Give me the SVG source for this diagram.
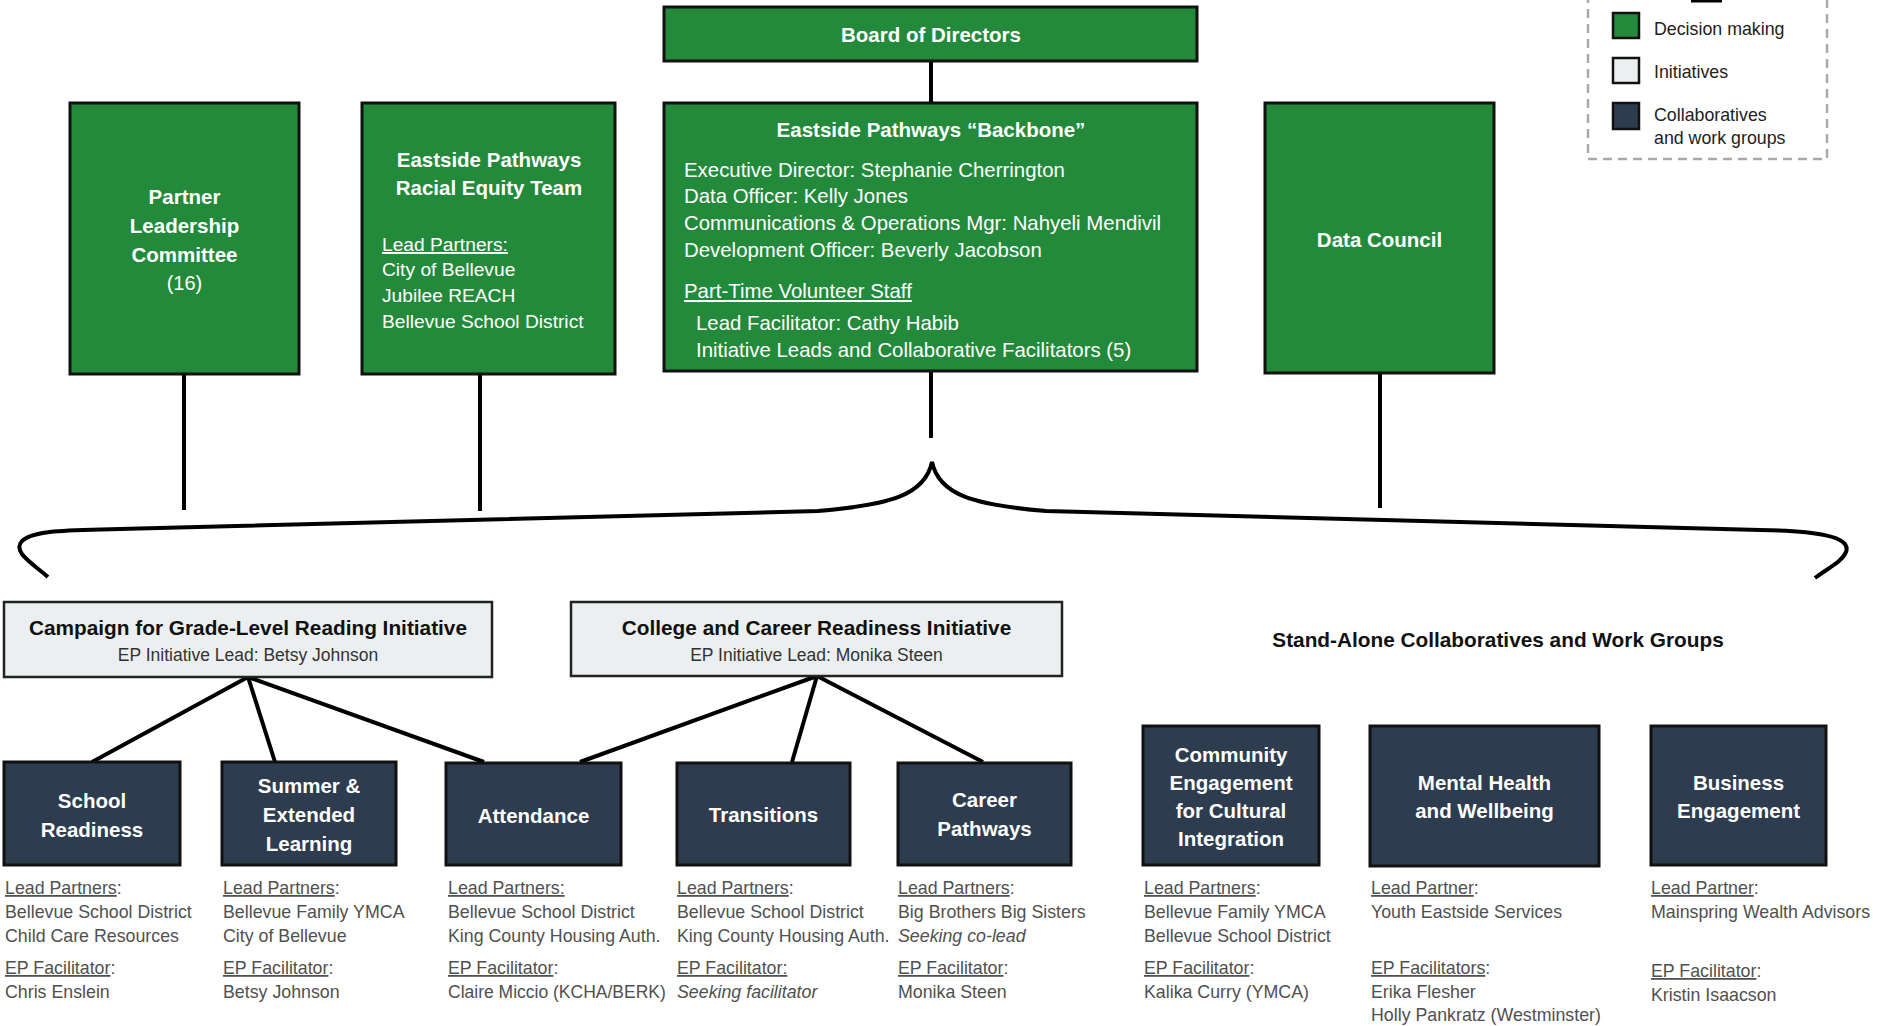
<svg xmlns="http://www.w3.org/2000/svg" width="1880" height="1026" viewBox="0 0 1880 1026">
<style>
  text { font-family: "Liberation Sans", Arial, sans-serif; }
  .green { fill: #238a3b; stroke: #111; stroke-width: 3; }
  .init { fill: #eceff0; stroke: #222; stroke-width: 2.5; }
  .navy { fill: #2e3c4f; stroke: #111; stroke-width: 3; }
  .wt { fill: #fff; font-weight: bold; font-size: 20.5px; text-anchor: middle; }
  .wr { fill: #fff; font-size: 20.4px; }
  .wrc { fill: #fff; font-size: 20px; text-anchor: middle; }
  .bt { fill: #111; font-weight: bold; font-size: 20.8px; text-anchor: middle; }
  .sub { fill: #333; font-size: 17.5px; text-anchor: middle; }
  .body { fill: #505050; font-size: 17.8px; }
  .leg { fill: #222; font-size: 17.8px; }
  .u { text-decoration: underline; }
  .it { font-style: italic; }
  .conn { fill: none; stroke: #000; stroke-width: 4; }
  .sw { stroke: #111; stroke-width: 2.5; }
</style>

<g id="connectors">
  <line class="conn" x1="931" y1="61" x2="931" y2="103"/>
  <line class="conn" x1="184" y1="374" x2="184" y2="510"/>
  <line class="conn" x1="480" y1="374" x2="480" y2="511"/>
  <line class="conn" x1="931" y1="371" x2="931" y2="438"/>
  <line class="conn" x1="1380" y1="373" x2="1380" y2="508"/>
  <path class="conn" d="M48,577 C32,563 12,552 22,541 C34,530 70,530 120,529 L818,511 C890,505 925,495 932,462 C939,495 974,505 1046,511 L1760,530 C1815,531 1852,536 1846,552 C1842,562 1828,568 1815,578"/>
  <line class="conn" x1="248" y1="677" x2="92" y2="762"/>
  <line class="conn" x1="248" y1="677" x2="275" y2="762"/>
  <line class="conn" x1="248" y1="677" x2="484" y2="762"/>
  <line class="conn" x1="817" y1="676" x2="580" y2="762"/>
  <line class="conn" x1="817" y1="676" x2="792" y2="762"/>
  <line class="conn" x1="817" y1="676" x2="983" y2="762"/>
</g>

<g id="legend">
  <path d="M1588,-6 V159 H1827 V-6" fill="none" stroke="#aaa" stroke-width="2.5" stroke-dasharray="9,6"/>
  <rect x="1691" y="-2" width="31" height="4.5" fill="#000"/>
  <rect class="sw" x="1613" y="13" width="26" height="25" fill="#238a3b"/>
  <text class="leg" x="1654" y="35">Decision making</text>
  <rect class="sw" x="1613" y="58" width="26" height="25" fill="#eceff0"/>
  <text class="leg" x="1654" y="78">Initiatives</text>
  <rect class="sw" x="1613" y="103" width="26" height="26" fill="#2e3c4f"/>
  <text class="leg" x="1654" y="121">Collaboratives</text>
  <text class="leg" x="1654" y="144">and work groups</text>
</g>

<g id="board">
  <rect class="green" x="664" y="7" width="533" height="54"/>
  <text class="wt" x="931" y="42">Board of Directors</text>
</g>

<g id="partner-leadership">
  <rect class="green" x="70" y="103" width="229" height="271"/>
  <text class="wt" x="184.5" y="204">Partner</text>
  <text class="wt" x="184.5" y="233">Leadership</text>
  <text class="wt" x="184.5" y="262">Committee</text>
  <text class="wrc" x="184.5" y="290">(16)</text>
</g>

<g id="racial-equity">
  <rect class="green" x="362" y="103" width="253" height="271"/>
  <text class="wt" x="489" y="167">Eastside Pathways</text>
  <text class="wt" x="489" y="195">Racial Equity Team</text>
  <text class="wr" x="382" y="251" style="font-size:19.2px"><tspan class="u">Lead Partners:</tspan></text>
  <text class="wr" x="382" y="276" style="font-size:19.2px">City of Bellevue</text>
  <text class="wr" x="382" y="302" style="font-size:19.2px">Jubilee REACH</text>
  <text class="wr" x="382" y="328" style="font-size:19.2px">Bellevue School District</text>
</g>

<g id="backbone">
  <rect class="green" x="664" y="103" width="533" height="268"/>
  <text class="wt" x="931" y="137">Eastside Pathways “Backbone”</text>
  <text class="wr" x="684" y="177">Executive Director: Stephanie Cherrington</text>
  <text class="wr" x="684" y="203">Data Officer: Kelly Jones</text>
  <text class="wr" x="684" y="230">Communications &amp; Operations Mgr: Nahyeli Mendivil</text>
  <text class="wr" x="684" y="257">Development Officer: Beverly Jacobson</text>
  <text class="wr" x="684" y="298"><tspan class="u">Part-Time Volunteer Staff</tspan></text>
  <text class="wr" x="696" y="330">Lead Facilitator: Cathy Habib</text>
  <text class="wr" x="696" y="357">Initiative Leads and Collaborative Facilitators (5)</text>
</g>

<g id="data-council">
  <rect class="green" x="1265" y="103" width="229" height="270"/>
  <text class="wt" x="1379.5" y="247">Data Council</text>
</g>

<g id="campaign-initiative">
  <rect class="init" x="4" y="602" width="488" height="75"/>
  <text class="bt" x="248" y="635">Campaign for Grade-Level Reading Initiative</text>
  <text class="sub" x="248" y="661">EP Initiative Lead: Betsy Johnson</text>
</g>

<g id="college-initiative">
  <rect class="init" x="571" y="602" width="491" height="74"/>
  <text class="bt" x="816.5" y="635">College and Career Readiness Initiative</text>
  <text class="sub" x="816.5" y="661">EP Initiative Lead: Monika Steen</text>
</g>

<g id="standalone-heading">
  <text class="bt" x="1498" y="647">Stand-Alone Collaboratives and Work Groups</text>
</g>

<g id="school-readiness">
  <rect class="navy" x="4" y="762" width="176" height="103"/>
  <text class="wt" x="92" y="808">School</text>
  <text class="wt" x="92" y="837">Readiness</text>
  <text class="body" x="5" y="894"><tspan class="u">Lead Partners</tspan>:</text>
  <text class="body" x="5" y="918">Bellevue School District</text>
  <text class="body" x="5" y="942">Child Care Resources</text>
  <text class="body" x="5" y="974"><tspan class="u">EP Facilitator</tspan>:</text>
  <text class="body" x="5" y="998">Chris Enslein</text>
</g>

<g id="summer-learning">
  <rect class="navy" x="222" y="762" width="174" height="103"/>
  <text class="wt" x="309" y="793">Summer &amp;</text>
  <text class="wt" x="309" y="822">Extended</text>
  <text class="wt" x="309" y="851">Learning</text>
  <text class="body" x="223" y="894"><tspan class="u">Lead Partners</tspan>:</text>
  <text class="body" x="223" y="918">Bellevue Family YMCA</text>
  <text class="body" x="223" y="942">City of Bellevue</text>
  <text class="body" x="223" y="974"><tspan class="u">EP Facilitator</tspan>:</text>
  <text class="body" x="223" y="998">Betsy Johnson</text>
</g>

<g id="attendance">
  <rect class="navy" x="446" y="763" width="175" height="102"/>
  <text class="wt" x="533.5" y="823">Attendance</text>
  <text class="body" x="448" y="894"><tspan class="u">Lead Partners:</tspan></text>
  <text class="body" x="448" y="918">Bellevue School District</text>
  <text class="body" x="448" y="942">King County Housing Auth.</text>
  <text class="body" x="448" y="974"><tspan class="u">EP Facilitator</tspan>:</text>
  <text class="body" x="448" y="998" style="font-size:17.5px">Claire Miccio (KCHA/BERK)</text>
</g>

<g id="transitions">
  <rect class="navy" x="677" y="763" width="173" height="102"/>
  <text class="wt" x="763.5" y="822">Transitions</text>
  <text class="body" x="677" y="894"><tspan class="u">Lead Partners</tspan>:</text>
  <text class="body" x="677" y="918">Bellevue School District</text>
  <text class="body" x="677" y="942">King County Housing Auth.</text>
  <text class="body" x="677" y="974"><tspan class="u">EP Facilitator:</tspan></text>
  <text class="body it" x="677" y="998">Seeking facilitator</text>
</g>

<g id="career-pathways">
  <rect class="navy" x="898" y="763" width="173" height="102"/>
  <text class="wt" x="984.5" y="807">Career</text>
  <text class="wt" x="984.5" y="836">Pathways</text>
  <text class="body" x="898" y="894"><tspan class="u">Lead Partners</tspan>:</text>
  <text class="body" x="898" y="918">Big Brothers Big Sisters</text>
  <text class="body it" x="898" y="942">Seeking co-lead</text>
  <text class="body" x="898" y="974"><tspan class="u">EP Facilitator</tspan>:</text>
  <text class="body" x="898" y="998">Monika Steen</text>
</g>

<g id="community-engagement">
  <rect class="navy" x="1143" y="726" width="176" height="139"/>
  <text class="wt" x="1231" y="762">Community</text>
  <text class="wt" x="1231" y="790">Engagement</text>
  <text class="wt" x="1231" y="818">for Cultural</text>
  <text class="wt" x="1231" y="846">Integration</text>
  <text class="body" x="1144" y="894"><tspan class="u">Lead Partners</tspan>:</text>
  <text class="body" x="1144" y="918">Bellevue Family YMCA</text>
  <text class="body" x="1144" y="942">Bellevue School District</text>
  <text class="body" x="1144" y="974"><tspan class="u">EP Facilitator</tspan>:</text>
  <text class="body" x="1144" y="998">Kalika Curry (YMCA)</text>
</g>

<g id="mental-health">
  <rect class="navy" x="1370" y="726" width="229" height="140"/>
  <text class="wt" x="1484.5" y="790">Mental Health</text>
  <text class="wt" x="1484.5" y="818">and Wellbeing</text>
  <text class="body" x="1371" y="894"><tspan class="u">Lead Partner</tspan>:</text>
  <text class="body" x="1371" y="918">Youth Eastside Services</text>
  <text class="body" x="1371" y="974"><tspan class="u">EP Facilitators</tspan>:</text>
  <text class="body" x="1371" y="998">Erika Flesher</text>
  <text class="body" x="1371" y="1021">Holly Pankratz (Westminster)</text>
</g>

<g id="business-engagement">
  <rect class="navy" x="1651" y="726" width="175" height="139"/>
  <text class="wt" x="1738.5" y="790">Business</text>
  <text class="wt" x="1738.5" y="818">Engagement</text>
  <text class="body" x="1651" y="894"><tspan class="u">Lead Partner</tspan>:</text>
  <text class="body" x="1651" y="918">Mainspring Wealth Advisors</text>
  <text class="body" x="1651" y="977"><tspan class="u">EP Facilitator</tspan>:</text>
  <text class="body" x="1651" y="1001">Kristin Isaacson</text>
</g>
</svg>
